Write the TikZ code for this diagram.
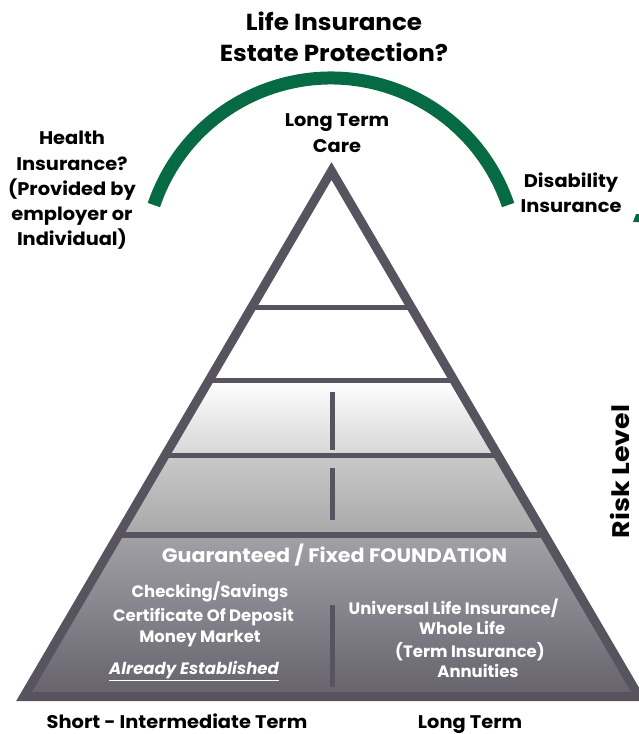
\documentclass[tikz,border=0pt]{standalone}
\usepackage{fontspec}
\setmainfont{Poppins}
\newfontfamily\lblfont{Poppins}[FakeStretch=1.06]
\newfontfamily\riskfont{Poppins}[FakeStretch=1.12]
\definecolor{pgray}{HTML}{57545F}
\definecolor{pgreen}{HTML}{066B44}
\begin{document}
\begin{tikzpicture}[x=1pt,y=-1pt,
  lbl/.style={font=\lblfont\bfseries\fontsize{18.3}{25.3}\selectfont, align=center, text=black, inner sep=0},
  ttl/.style={font=\lblfont\bfseries\fontsize{23.2}{31}\selectfont, align=center, text=black, inner sep=0},
  risk/.style={font=\riskfont\bfseries\fontsize{24}{30}\selectfont, text=black, inner sep=0},
  whead/.style={font=\lblfont\bfseries\fontsize{19.5}{24}\selectfont, text=white, inner sep=0, anchor=base},
  wtxt/.style={font=\bfseries\fontsize{16.5}{20}\selectfont, text=white, inner sep=0, anchor=base},
  sepline/.style={draw=pgray, line width=5pt},
  vdash/.style={draw=pgray, line width=5pt},
  ]
\useasboundingbox (0,0) rectangle (638,734);
\coordinate (apex) at (331.5,171);
\coordinate (bl) at (24,696.5);
\coordinate (br) at (639,696.5);
% fills
\begin{scope}
\clip (apex) -- (bl) -- (br) -- cycle;
\fill[white] (0,150) rectangle (660,380);
\shade[top color=white, bottom color=black!16!white] (0,380) rectangle (660,455);
\shade[top color=black!21!white, bottom color=black!34!white] (0,455) rectangle (660,535);
\shade[top color=pgray!55!white, bottom color=pgray!92!white] (0,535) rectangle (660,697);
\draw[sepline] (0,307) -- (660,307);
\draw[sepline] (0,380) -- (660,380);
\draw[sepline] (0,455) -- (660,455);
\draw[sepline, line width=6pt] (0,535) -- (660,535);
\end{scope}
\draw[pgray, line width=9pt, line join=miter] (apex) -- (bl) -- (br) -- cycle;
% vertical dashes
\draw[vdash] (332,392) -- (332,450);
\draw[vdash] (332,468) -- (332,520);
\draw[vdash] (332,605) -- (332,687);
% green arc
\draw[pgreen, line width=13pt] (331,265) ++(198.7:187) arc[start angle=198.7, end angle=341.3, radius=187];
\fill[pgreen] (633,222) -- (636,214) -- (639,214) -- (639,222) -- cycle;
% labels
\node[ttl] (title) at (334,37) {Life Insurance\\Estate Protection?};
\node[lbl] (ltc) at (337,133) {Long Term\\Care};
\node[lbl] (health) at (72,190.5) {Health\\Insurance?\\(Provided by\\employer or\\Individual)};
\node[lbl] (dis) at (571,192.5) {Disability\\Insurance};
\node[risk, rotate=90] (riskl) at (620,471.5) {Risk Level};
\node[lbl, anchor=base] (short) at (177,728) {Short - Intermediate Term};
\node[lbl, anchor=base] (long) at (470,728) {Long Term};
% foundation text
\node[whead] (found) at (334.5,562) {Guaranteed / Fixed FOUNDATION};
\node[wtxt] (l1) at (210,597) {Checking/Savings};
\node[wtxt] (l2) at (203.5,621) {Certificate Of Deposit};
\node[wtxt] (l3) at (200,642) {Money Market};
\node[wtxt] (l4) at (194,674) {\itshape\underline{Already Established}};
\node[wtxt] (r1) at (453.5,614) {Universal Life Insurance/};
\node[wtxt] (r2) at (462,634) {Whole Life};
\node[wtxt] (r3) at (470,657) {(Term Insurance)};
\node[wtxt] (r4) at (478,677) {Annuities};
\end{tikzpicture}
\end{document}
